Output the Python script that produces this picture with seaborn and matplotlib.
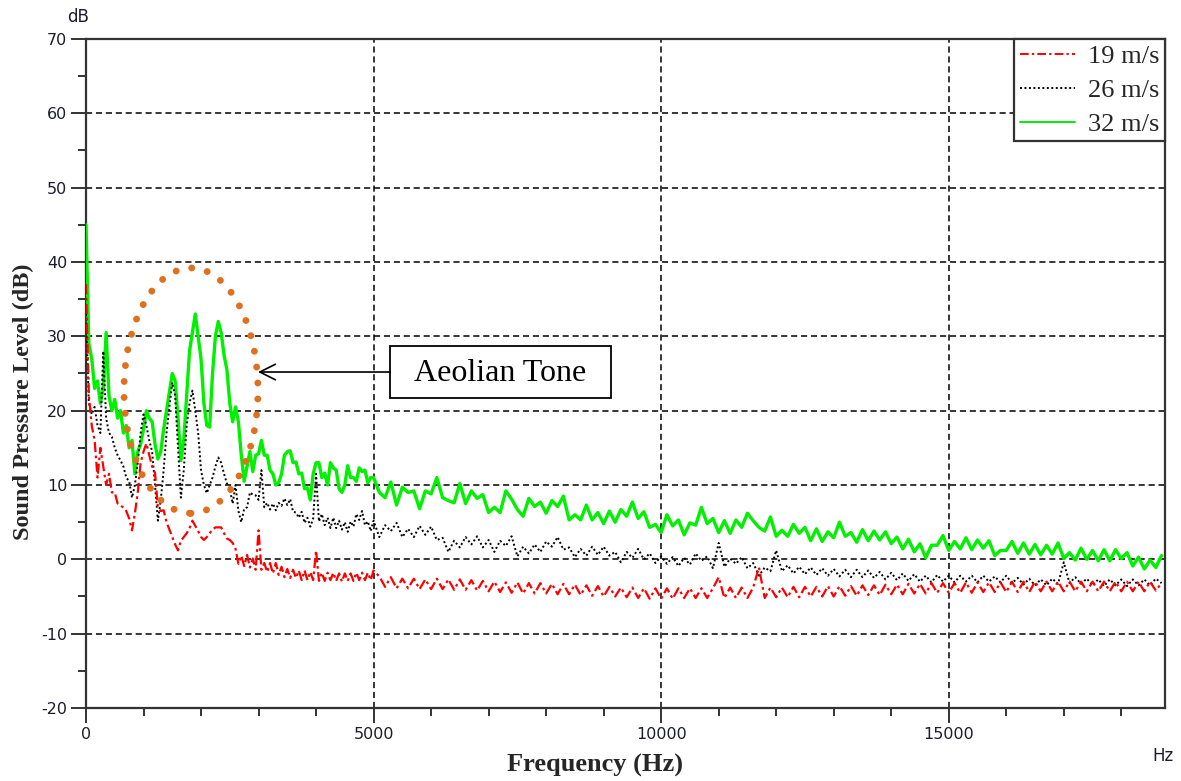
import numpy as np
import matplotlib
matplotlib.use("Agg")
import matplotlib.pyplot as plt
from matplotlib.patches import Ellipse, Rectangle
import seaborn as sns

# ---------------- data ----------------
freq_low = np.arange(0, 5001, 50)        # Hz, 0..5000 step 50
freq_high = np.arange(5100, 18701, 100)  # Hz, 5100..18700 step 100
freq = np.concatenate([freq_low, freq_high])

series_labels = ["19 m/s", "26 m/s", "32 m/s"]

spl_19 = [
    37, 22, 18, 16, 11, 15, 12.5, 10, 11.5, 9,
    9, 7.5, 7.2, 7, 6.5, 5.5, 3.9, 6.2, 9, 13,
    14.5, 15.6, 14, 12.5, 11.6, 7, 6.5, 6.6, 5, 4,
    3, 2, 1.2, 2.5, 3, 3.5, 4.2, 5.2, 4.5, 3.8,
    3, 2.6, 3, 3.5, 4, 4.3, 4.3, 4.3, 3.5, 2.8,
    2.6, 2.2, 1.4, -0.6, 0.5, -0.9, 0.6, -1.1, 0.1, -1.4,
    3.9, -1.4, -0.5, -1.7, -0.5, -1.9, -0.5, -2.1, -1.0, -2.4,
    -1.3, -2.5, -1.4, -2.5, -1.5, -2.8, -1.5, -2.8, -1.7, -2.8,
    1.2, -2.9, -1.8, -2.9, -1.8, -2.8, -1.8, -2.9, -1.9, -3.0,
    -1.9, -2.9, -1.9, -2.9, -1.8, -2.8, -1.8, -2.8, -1.8, -2.8,
    -1.5,
    -2.3, -3.7, -2.4, -3.9, -2.6, -3.9, -2.6, -4.0, -2.7, -4.0,
    -2.6, -4.0, -2.7, -4.1, -2.7, -4.1, -2.8, -4.2, -2.9, -4.3,
    -3.0, -4.4, -3.1, -4.5, -3.1, -4.6, -3.2, -4.6, -3.2, -4.6,
    -3.3, -4.7, -3.3, -4.7, -3.4, -4.8, -3.5, -4.9, -3.6, -5.0,
    -3.7, -5.0, -3.8, -5.1, -3.8, -5.2, -3.9, -5.3, -3.9, -5.3,
    -3.9, -5.3, -3.9, -5.2, -3.9, -5.2, -3.9, -5.2, -3.9, -2.4,
    -5.2, -3.8, -5.2, -3.8, -5.2, -3.8, -1.1, -5.2, -3.8, -5.1,
    -3.8, -5.1, -3.7, -5.1, -3.7, -5.0, -3.7, -5.0, -3.6, -5.0,
    -3.6, -4.9, -3.6, -4.9, -3.5, -4.8, -3.5, -4.8, -3.4, -4.7,
    -3.4, -4.7, -3.3, -4.6, -3.3, -4.6, -3.2, -4.5, -3.2, -4.5,
    -3.2, -4.5, -3.1, -4.5, -3.1, -4.4, -3.1, -4.4, -3.1, -4.4,
    -3.0, -4.4, -3.0, -4.4, -3.0, -4.3, -3.0, -4.3, -3.0, -4.3,
    -3.0, -4.3, -3.0, -4.3, -3.0, -4.3, -3.0, -4.3, -3.0, -4.3,
    -3.0, -4.3, -3.0, -4.3, -3.0, -4.2, -3.2,
]

spl_26 = [
    33, 21, 19.5, 20.5, 18, 17, 28, 19, 17, 16.5,
    15, 14, 13.3, 12.5, 11, 10.5, 8.3, 10, 13, 17,
    19.5, 18, 16, 14.5, 10, 5.2, 8, 12, 17, 20.5,
    23.8, 22, 15, 8.3, 12, 18, 21, 22.7, 20, 17,
    12, 10, 8.9, 10, 11, 12.5, 13.7, 13, 11.5, 10.2,
    9.5, 7.5, 10, 6.5, 5, 6.8, 7, 9, 8.7, 8.6,
    8, 12, 7, 7.6, 6.7, 7.5, 6.6, 7.6, 7.2, 8.2,
    7.3, 8.1, 6.4, 6.3, 5.6, 6.4, 4.9, 5.6, 4.4, 5.5,
    11.5, 5.1, 6.1, 4.6, 5.6, 4.2, 5.6, 4.2, 5.2, 4.0,
    5.0, 3.7, 5.1, 4.4, 6.1, 5.3, 6.5, 4.6, 5.1, 3.8,
    5.2,
    3.0, 4.6, 3.8, 4.9, 3.0, 4.1, 3.0, 4.5, 3.3, 4.4,
    2.6, 2.9, 1.0, 2.5, 1.6, 3.0, 2.0, 3.1, 1.6, 2.6,
    1.0, 2.5, 1.8, 3.1, 0.4, 1.7, 0.8, 2.0, 1.0, 2.4,
    1.7, 3.0, 1.3, 1.6, 0.3, 1.4, 0.5, 1.7, 0.6, 1.7,
    0.5, 1.0, -0.4, 1.0, 0.2, 1.4, 0.0, 0.8, -0.5, 0.4,
    -0.6, 0.3, -0.9, 0.2, -0.7, 0.8, -0.2, 0.4, -1.2, 2.2,
    -1.0, 0.1, -0.6, 0.3, -1.2, -0.5, -2.2, -1.1, -1.6, 1.2,
    -1.6, -0.8, -1.9, -1.0, -2.0, -1.1, -2.1, -1.2, -2.2, -1.3,
    -2.3, -1.4, -2.4, -1.4, -2.4, -1.5, -2.5, -1.7, -2.7, -1.8,
    -2.8, -1.9, -2.9, -2.0, -3.0, -2.2, -3.1, -2.1, -3.0, -2.2,
    -3.1, -2.2, -3.0, -2.2, -3.1, -2.2, -3.0, -2.3, -3.1, -2.2,
    -3.2, -2.5, -3.4, -2.6, -3.5, -2.7, -3.5, -2.6, -3.3, -0.4,
    -3.2, -2.4, -3.3, -2.6, -3.5, -2.7, -3.6, -2.7, -3.5, -2.7,
    -3.6, -2.7, -3.5, -2.7, -3.5, -2.6, -3.2,
]

spl_32 = [
    45, 29, 27, 23, 24, 21, 23, 30.5, 22, 20,
    21.5, 19, 20, 17, 18, 15, 16, 11.5, 14.5, 15.5,
    17.5, 20, 19, 18.5, 15.5, 13.5, 14.5, 17.5, 20, 22.5,
    25, 24, 19, 13.3, 16, 22, 28, 30.5, 33, 30,
    27, 21, 18, 17.8, 25, 30, 32, 30.5, 27.5, 25.5,
    21, 18.5, 20.5, 18.5, 14, 10.5, 12.5, 14.5, 11.8, 14,
    14.2, 16, 14, 14, 12, 11.5, 10, 10.3, 11.5, 14,
    14.5, 14.6, 13, 13.1, 11.5, 11.6, 9.5, 9.6, 8, 11.5,
    13, 13, 11, 11.6, 10, 13, 12.3, 12, 9.5, 9,
    10, 12.6, 11, 11, 10.5, 12.3, 11.8, 12, 10.3, 11,
    11,
    9.0, 8.3, 10.4, 7.3, 9.7, 9.0, 9.2, 6.8, 9.2, 8.8,
    11.0, 8.3, 7.9, 7.6, 10.2, 7.5, 9.2, 8.2, 8.7, 6.3,
    7.0, 6.3, 9.2, 8.1, 6.7, 5.8, 8.2, 7.1, 7.7, 6.2,
    7.9, 7.1, 8.5, 5.3, 6.0, 5.3, 7.3, 5.3, 6.3, 4.8,
    6.5, 5.0, 6.7, 5.8, 7.7, 5.5, 6.4, 4.3, 4.7, 3.6,
    6.0, 4.5, 5.3, 3.3, 4.9, 4.6, 7.0, 4.8, 5.5, 3.6,
    5.2, 3.5, 5.3, 4.3, 6.2, 5.2, 4.3, 3.8, 5.7, 3.1,
    3.9, 3.1, 4.7, 3.5, 4.3, 2.5, 4.1, 2.4, 3.7, 2.9,
    5.0, 3.1, 3.6, 2.3, 4.0, 2.5, 3.8, 2.6, 3.7, 2.1,
    3.0, 1.4, 2.7, 1.0, 2.1, 0.2, 1.9, 1.9, 3.2, 1.2,
    2.4, 1.4, 2.9, 1.3, 2.6, 1.5, 2.5, 0.5, 1.2, 1.2,
    2.4, 0.8, 2.2, 0.7, 2.0, 0.6, 1.9, 0.7, 2.2, 0.1,
    0.9, -0.1, 1.5, 0.0, 1.2, -0.2, 1.3, -0.2, 1.3, 0.1,
    0.9, -0.9, 0.3, -1.3, -0.1, -1.1, 0.5,
]

x_ticks = [0, 5000, 10000, 15000]
y_ticks = [-20, -10, 0, 10, 20, 30, 40, 50, 60, 70]

# ---------------- styling ----------------
sns.set_theme(style="ticks")
plt.rcParams["font.family"] = ["DejaVu Sans"]
W, H = 1181, 781
fig = plt.figure(figsize=(W / 100, H / 100), dpi=100)
ax = fig.add_axes([86 / W, 1 - 708 / H, (1165 - 86) / W, (708 - 39) / H])

frame_col = "#333333"
serif = ["Liberation Serif", "DejaVu Serif"]

sns.lineplot(x=freq, y=spl_32, ax=ax, color="#00F000", lw=2.4,
             label=series_labels[2], estimator=None, sort=False, zorder=3)
sns.lineplot(x=freq, y=spl_26, ax=ax, color="black", lw=1.4,
             linestyle=(0, (1, 1.3)), label=series_labels[1],
             estimator=None, sort=False, zorder=4)
sns.lineplot(x=freq, y=spl_19, ax=ax, color="#FF0000", lw=1.6,
             linestyle=(0, (4.5, 1.6, 1.2, 1.6)), label=series_labels[0],
             estimator=None, sort=False, zorder=5)

ax.set_xlim(0, 18760)
ax.set_ylim(-20, 70)
ax.set_xticks(x_ticks)
ax.set_yticks(y_ticks)
ax.set_xticks(np.arange(0, 18760, 1000), minor=True)
ax.set_yticks(np.arange(-20, 71, 5), minor=True)
ax.set_xticklabels([str(v) for v in x_ticks])
ax.set_yticklabels([str(v) for v in y_ticks])
ax.tick_params(axis="both", which="major", direction="out", length=10.5,
               width=1.4, color=frame_col, labelsize=11.5, labelcolor="#1c1c2c",
               pad=3)
ax.tick_params(axis="both", which="minor", direction="out", length=6,
               width=1.4, color=frame_col)
ax.set_xlabel("")
ax.set_ylabel("")

for s in ax.spines.values():
    s.set_color(frame_col)
    s.set_linewidth(1.6)
    s.set_visible(True)

# dashed grid at interior major ticks
for yv in y_ticks[1:-1]:
    ax.axhline(yv, color="black", lw=1.1, linestyle=(0, (4, 2.5)), zorder=1)
for xv in x_ticks[1:]:
    ax.axvline(xv, color="black", lw=1.1, linestyle=(0, (4, 2.5)), zorder=1)

# legend
handles, labels = ax.get_legend_handles_labels()
order = [labels.index(l) for l in series_labels]
leg = ax.legend([handles[i] for i in order], [labels[i] for i in order],
                loc="upper right", borderaxespad=0, fancybox=False,
                framealpha=1, edgecolor=frame_col, handlelength=2.1,
                handletextpad=0.5, labelspacing=0.4, borderpad=0.2,
                prop={"family": serif, "size": 19})
leg.get_frame().set_linewidth(1.6)
for lh in leg.get_lines():
    lh.set_linewidth(1.4)

# orange dotted ellipse annotation
ell = Ellipse((1825, 22.7), width=2330, height=33, fill=False,
              edgecolor="#E0701E", lw=5, linestyle=(0, (0.001, 2.3)),
              capstyle="round", zorder=6)
ax.add_patch(ell)

# Aeolian Tone box and arrow
ax.add_patch(Rectangle((5285, 21.7), 9127 - 5285, 7.0, fill=True,
                       facecolor="white", edgecolor="black", lw=1.3, zorder=7))
ax.text((5285 + 9127) / 2, 25.0, "Aeolian Tone", ha="center", va="center",
        family=serif, fontsize=23, color="black", zorder=8)
ax.annotate("", xy=(2990, 25.2), xytext=(5285, 25.2),
            arrowprops=dict(arrowstyle="->", color="black", lw=1.2,
                            mutation_scale=28, shrinkA=0, shrinkB=0),
            zorder=7)

# axis labels and unit labels
fig.text(595 / W, 1 - 765 / H, "Frequency (Hz)", ha="center", va="center",
         family=serif, fontsize=19, fontweight="bold")
fig.text(23 / W, 1 - 402 / H, "Sound Pressure Level (dB)", ha="center",
         va="center", rotation=90, family=serif, fontsize=17.5,
         fontweight="bold")
fig.text(78 / W, 1 - 17 / H, "dB", ha="center", va="center", fontsize=12,
         color="#1c1c2c")
fig.text(1163 / W, 1 - 756 / H, "Hz", ha="center", va="center", fontsize=12,
         color="#1c1c2c")

fig.savefig("out.png", dpi=100)
